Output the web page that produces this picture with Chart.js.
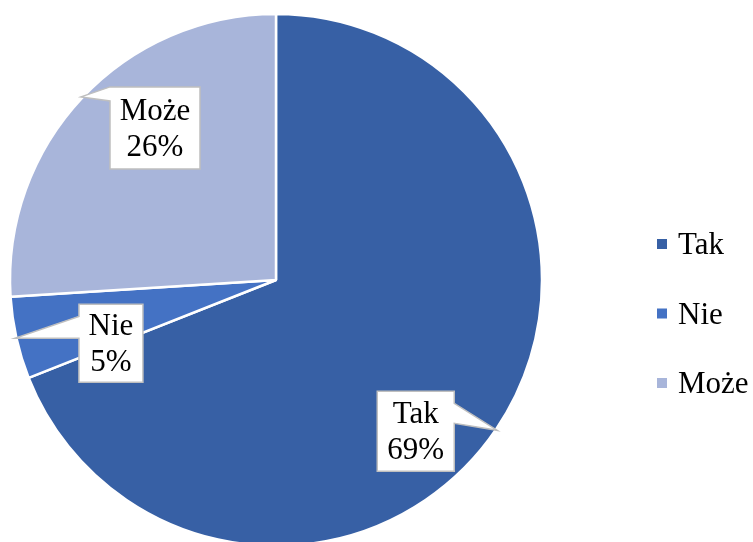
<!DOCTYPE html>
<html>
<head>
<meta charset="utf-8">
<script src="https://cdn.jsdelivr.net/npm/chart.js@4/dist/chart.umd.min.js"></script>
<style>
  html, body { margin: 0; padding: 0; background: #fff; overflow: hidden; }
  #wrap { width: 753px; height: 542px; overflow: hidden; position: relative; }
</style>
</head>
<body>
<div id="wrap"><canvas id="c" width="753" height="560"></canvas></div>
<script>
// dane
const labels = ['Tak', 'Nie', 'Może'];
const values = [69, 5, 26];
const colors = ['#3760A5', '#4472C4', '#A8B5DA'];

const FONT = '"Liberation Serif", "Times New Roman", Times, serif';

// położenie dymków względem czubka (środek łuku na krawędzi)
const calloutLayout = [
    { dx: -81.5, dy: 1, w: 77, h: 80, side: 'right', b1: 12, b2: 32 },
    { dx: 96, dy: 5, w: 64, h: 78, side: 'left', b1: 12, b2: 34 },
    { dx: 74, dy: 31, w: 90, h: 82, side: 'left', b1: 0, b2: 14 }
];

const calloutPlugin = {
    id: 'callouts',
    afterDatasetsDraw(chart) {
        const ctx = chart.ctx;
        const meta = chart.getDatasetMeta(0);
        const data = chart.data.datasets[0].data;
        const total = data.reduce((a, b) => a + b, 0);
        meta.data.forEach(function (arc, i) {
            const p = arc.getProps(['x', 'y', 'startAngle', 'endAngle', 'outerRadius'], true);
            const mid = (p.startAngle + p.endAngle) / 2;
            const tx = p.x + Math.cos(mid) * (p.outerRadius + 1.5);
            const ty = p.y + Math.sin(mid) * (p.outerRadius + 1.5);
            const L = calloutLayout[i];
            const cx = tx + L.dx, cy = ty + L.dy;
            const l = cx - L.w / 2, r = cx + L.w / 2, t = cy - L.h / 2, b = cy + L.h / 2;
            ctx.save();
            ctx.beginPath();
            if (L.side === 'right') {
                ctx.moveTo(l, t);
                ctx.lineTo(r, t);
                ctx.lineTo(r, t + L.b1);
                ctx.lineTo(tx, ty);
                ctx.lineTo(r, t + L.b2);
                ctx.lineTo(r, b);
                ctx.lineTo(l, b);
            } else {
                ctx.moveTo(l, t);
                ctx.lineTo(r, t);
                ctx.lineTo(r, b);
                ctx.lineTo(l, b);
                ctx.lineTo(l, t + L.b2);
                ctx.lineTo(tx, ty);
                ctx.lineTo(l, t + L.b1);
            }
            ctx.closePath();
            ctx.fillStyle = '#ffffff';
            ctx.fill();
            ctx.lineWidth = 1.5;
            ctx.strokeStyle = '#BFBFBF';
            ctx.stroke();
            ctx.fillStyle = '#000';
            ctx.font = '31px ' + FONT;
            ctx.textAlign = 'center';
            ctx.textBaseline = 'alphabetic';
            const pct = Math.round(data[i] / total * 100) + '%';
            ctx.fillText(chart.data.labels[i], cx, cy - 8);
            ctx.fillText(pct, cx, cy + 28);
            ctx.restore();
        });
    }
};

const legendPlugin = {
    id: 'sideLegend',
    afterDraw(chart) {
        const ctx = chart.ctx;
        const bg = chart.data.datasets[0].backgroundColor;
        ctx.save();
        ctx.font = '31px ' + FONT;
        ctx.textBaseline = 'alphabetic';
        ctx.textAlign = 'left';
        chart.data.labels.forEach(function (lab, i) {
            const y = 244 + i * 69.5;
            ctx.fillStyle = bg[i];
            ctx.fillRect(657, y - 5, 10, 10);
            ctx.fillStyle = '#000';
            ctx.fillText(lab, 678, y + 10);
        });
        ctx.restore();
    }
};

function draw() {
    new Chart(document.getElementById('c'), {
        type: 'pie',
        data: {
            labels: labels,
            datasets: [{
                data: values,
                backgroundColor: colors,
                borderColor: '#ffffff',
                borderWidth: 2.5,
                radius: 266
            }]
        },
        options: {
            responsive: false,
            animation: false,
            layout: { padding: { left: 10, top: 14, right: 211, bottom: 14 } },
            plugins: {
                legend: { display: false },
                tooltip: { enabled: false }
            }
        },
        plugins: [calloutPlugin, legendPlugin]
    });
}

document.fonts.load('31px "Liberation Serif"').then(draw, draw);
</script>
</body>
</html>
